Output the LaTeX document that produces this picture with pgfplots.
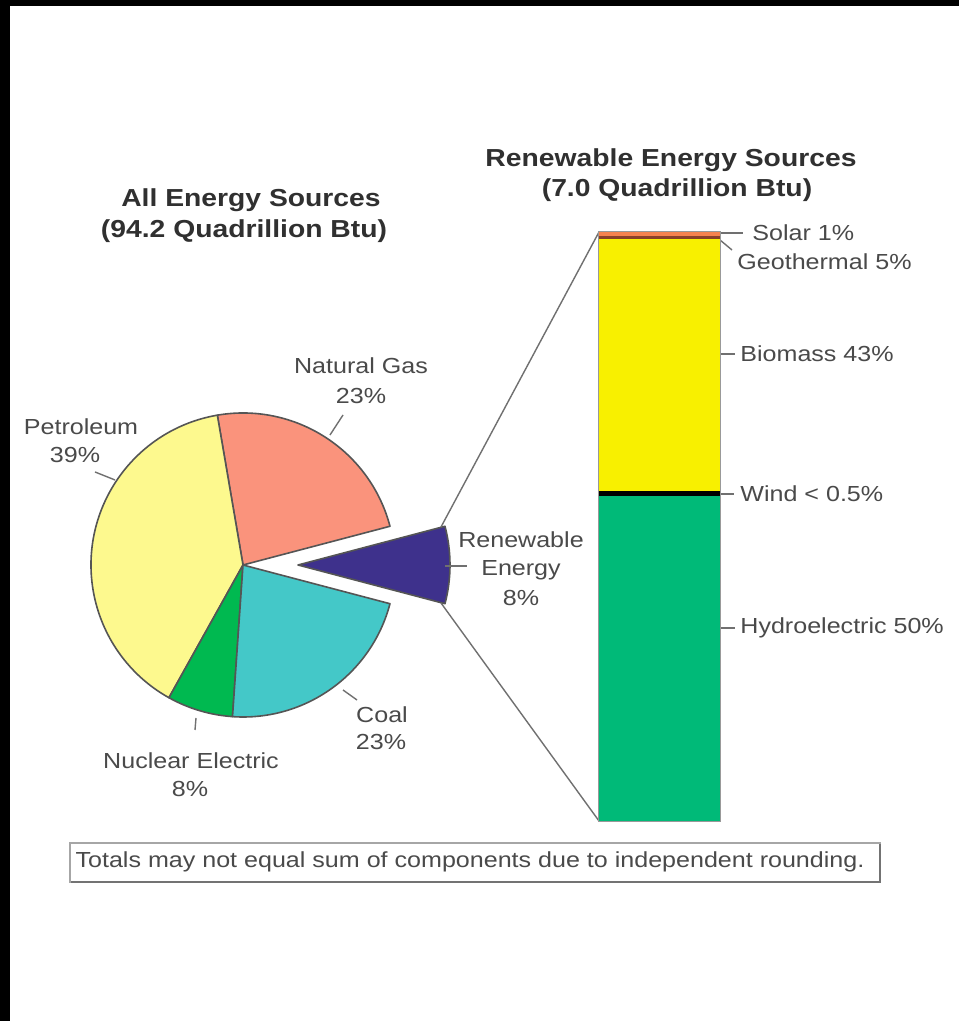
\documentclass[border=0pt]{standalone}
\usepackage{fontspec}
\setmainfont{Liberation Sans}[FakeStretch=1.15]
\usepackage{pgfplots}
\usepackage{pgfplotstable}
\pgfplotsset{compat=1.18}

\definecolor{pet}{HTML}{FDF98E}
\definecolor{gas}{HTML}{FA937C}
\definecolor{coal}{HTML}{44C8C8}
\definecolor{nuc}{HTML}{00B950}
\definecolor{ren}{HTML}{3E318C}
\definecolor{hyd}{HTML}{00BA78}
\definecolor{bio}{HTML}{F8F000}
\definecolor{geo}{HTML}{8A4028}
\definecolor{sol}{HTML}{F5824E}
\definecolor{txt}{HTML}{4A4A4A}
\definecolor{ttl}{HTML}{303030}
\definecolor{lead}{HTML}{707070}
\definecolor{edge}{HTML}{555555}

% pie: share of all energy sources as drawn (%), counter-clockwise from Renewable
\pgfplotstableread{
label value color shift
Renewable 8.2 ren 27.5
NaturalGas 23.6 gas 0
Petroleum 39.2 pet 0
Nuclear 7.0 nuc 0
Coal 22.0 coal 0
}\pietable

% stacked bar: renewable energy sources (share of bar height as drawn, %)
\pgfplotstableread{
x hydro wind biomass geo solar
0.5 55.2 0.8 42.8 0.5 0.7
}\bartable

\pgfplotstablegetrowsof{\pietable}
\pgfmathtruncatemacro{\Nlast}{\pgfplotsretval-1}
\def\pietotal{0}
\pgfplotsforeachungrouped \i in {0,...,\Nlast}{%
  \pgfplotstablegetelem{\i}{value}\of\pietable
  \pgfmathsetmacro{\pietotal}{\pietotal+\pgfplotsretval}%
}
\pgfplotstablegetelem{0}{value}\of\pietable
\pgfmathsetmacro{\piestart}{-\pgfplotsretval*180/\pietotal}

\newcommand{\lbl}{\fontsize{10.9}{13}\selectfont}
\newcommand{\ttlf}{\fontsize{12.3}{15}\selectfont\bfseries}

\begin{document}
\begin{tikzpicture}
\begin{axis}[
  at={(0pt,0pt)}, anchor=south west,
  x=0.5pt, y=0.5pt,
  xmin=0, xmax=959, ymin=0, ymax=1021,
  hide axis, clip=false,
]
% background and border
\fill[white] (axis cs:0,0) rectangle (axis cs:959,1021);
\fill[black] (axis cs:0,1015) rectangle (axis cs:959,1021);
\fill[black] (axis cs:0,0) rectangle (axis cs:10,1021);

% pie slices
\def\cum{\piestart}
\pgfplotsforeachungrouped \i in {0,...,\Nlast}{%
  \pgfplotstablegetelem{\i}{value}\of\pietable \let\v\pgfplotsretval
  \pgfplotstablegetelem{\i}{color}\of\pietable \let\c\pgfplotsretval
  \pgfplotstablegetelem{\i}{shift}\of\pietable \let\s\pgfplotsretval
  \pgfmathsetmacro{\a}{\cum}%
  \pgfmathsetmacro{\b}{\cum+\v*360/\pietotal}%
  \pgfmathsetmacro{\m}{(\a+\b)/2}%
  \edef\temp{\noexpand\filldraw[fill=\c, draw=edge, line width=0.8pt, line join=round]
    ([shift={(\m:\s pt)}]axis cs:243,456) -- ++(\a:76pt)
    arc[start angle=\a, end angle=\b, radius=76pt] -- cycle;}%
  \temp
  \let\cum\b
}

% leader lines pie -> bar
\draw[lead, line width=0.7pt] (axis cs:441,494) -- (axis cs:599,789);
\draw[lead, line width=0.7pt] (axis cs:441,418) -- (axis cs:599,200);

% pie label leaders
\draw[lead, line width=0.7pt] (axis cs:330,586) -- (axis cs:343,606);
\draw[lead, line width=0.7pt] (axis cs:95,549) -- (axis cs:115,541);
\draw[lead, line width=0.7pt] (axis cs:343,331) -- (axis cs:357,321);
\draw[lead, line width=0.7pt] (axis cs:196,303) -- (axis cs:195,291);
\draw[lead, line width=0.7pt] (axis cs:445,455) -- (axis cs:467,455);

% bar label leaders
\draw[lead, line width=0.7pt] (axis cs:720,788) -- (axis cs:743,788);
\draw[lead, line width=0.7pt] (axis cs:720,781) -- (axis cs:732,771);
\draw[lead, line width=0.7pt] (axis cs:720,667) -- (axis cs:735,667);
\draw[lead, line width=0.7pt] (axis cs:720,527) -- (axis cs:734,527);
\draw[lead, line width=0.7pt] (axis cs:720,393) -- (axis cs:735,393);

% titles
\node[text=ttl, font=\ttlf] at (axis cs:251,821) {All Energy Sources};
\node[text=ttl, font=\ttlf] at (axis cs:244,790) {(94.2 Quadrillion Btu)};
\node[text=ttl, font=\ttlf] at (axis cs:671,861) {Renewable Energy Sources};
\node[text=ttl, font=\ttlf] at (axis cs:677,831) {(7.0 Quadrillion Btu)};

% pie labels
\node[text=txt, font=\lbl] at (axis cs:361,655) {Natural Gas};
\node[text=txt, font=\lbl] at (axis cs:361,625) {23\%};
\node[text=txt, font=\lbl] at (axis cs:81,594) {Petroleum};
\node[text=txt, font=\lbl] at (axis cs:75,566) {39\%};
\node[text=txt, font=\lbl] at (axis cs:382,306) {Coal};
\node[text=txt, font=\lbl] at (axis cs:381,279) {23\%};
\node[text=txt, font=\lbl] at (axis cs:191,260) {Nuclear Electric};
\node[text=txt, font=\lbl] at (axis cs:190,232) {8\%};
\node[text=txt, font=\lbl] at (axis cs:521,481) {Renewable};
\node[text=txt, font=\lbl] at (axis cs:521,451) {Energy};
\node[text=txt, font=\lbl] at (axis cs:521,423) {8\%};

% bar labels
\node[text=txt, font=\lbl, anchor=west, inner sep=0pt] at (axis cs:752,788) {Solar 1\%};
\node[text=txt, font=\lbl, anchor=west, inner sep=0pt] at (axis cs:737,759) {Geothermal 5\%};
\node[text=txt, font=\lbl, anchor=west, inner sep=0pt] at (axis cs:740,667) {Biomass 43\%};
\node[text=txt, font=\lbl, anchor=west, inner sep=0pt] at (axis cs:740,527) {Wind < 0.5\%};
\node[text=txt, font=\lbl, anchor=west, inner sep=0pt] at (axis cs:740,393) {Hydroelectric 50\%};

% footnote box
\draw[gray!70, line width=0.7pt] (axis cs:70,139) rectangle (axis cs:880,178);
\draw[gray!90!black, line width=1.4pt] (axis cs:71,139) -- (axis cs:880,139) -- (axis cs:880,177);
\node[text=txt, font=\lbl] at (axis cs:470,159) {Totals may not equal sum of components due to independent rounding.};
\end{axis}

\begin{axis}[
  at={(299.5pt,100pt)}, anchor=south west,
  width=60.5pt, height=294.5pt, scale only axis,
  hide axis, clip=false,
  xmin=0, xmax=1, ymin=0, ymax=100,
  ybar stacked, bar width=60.5pt,
]
\addplot[fill=hyd, draw=none] table[x=x, y=hydro] {\bartable};
\addplot[fill=black, draw=none] table[x=x, y=wind] {\bartable};
\addplot[fill=bio, draw=none] table[x=x, y=biomass] {\bartable};
\addplot[fill=geo, draw=none] table[x=x, y=geo] {\bartable};
\addplot[fill=sol, draw=none] table[x=x, y=solar] {\bartable};
\draw[gray!80, line width=1pt] (rel axis cs:0,0) rectangle (rel axis cs:1,1);
\end{axis}
\end{tikzpicture}
\end{document}
